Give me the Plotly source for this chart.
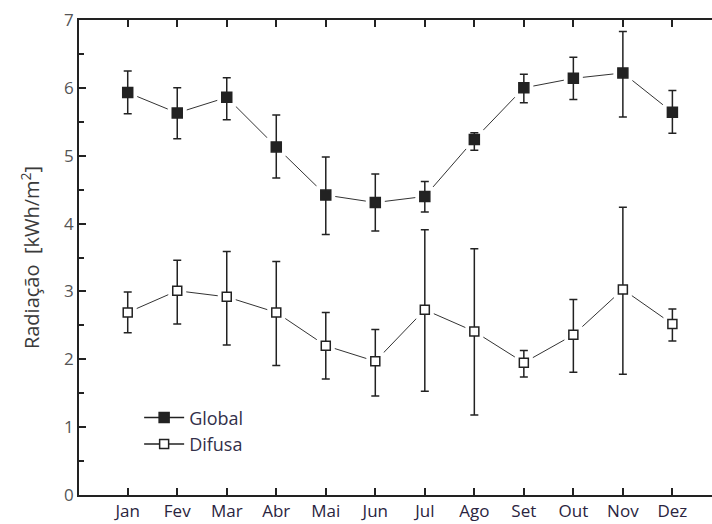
import plotly.graph_objects as go

months = ["Jan", "Fev", "Mar", "Abr", "Mai", "Jun", "Jul", "Ago", "Set", "Out", "Nov", "Dez"]
month_pos = list(range(1, 13))

global_mean = [5.93, 5.63, 5.86, 5.13, 4.42, 4.31, 4.40, 5.24, 6.00, 6.14, 6.22, 5.64]
global_upper = [6.25, 6.00, 6.15, 5.60, 4.98, 4.73, 4.62, 5.34, 6.20, 6.45, 6.83, 5.96]
global_lower = [5.62, 5.25, 5.53, 4.67, 3.84, 3.89, 4.17, 5.08, 5.78, 5.83, 5.57, 5.33]

difusa_mean = [2.69, 3.01, 2.92, 2.69, 2.20, 1.97, 2.73, 2.41, 1.95, 2.36, 3.03, 2.52]
difusa_upper = [2.99, 3.46, 3.59, 3.44, 2.69, 2.44, 3.91, 3.63, 2.13, 2.88, 4.24, 2.74]
difusa_lower = [2.39, 2.52, 2.21, 1.91, 1.71, 1.46, 1.53, 1.18, 1.74, 1.81, 1.78, 2.27]

ink = "#222222"
fig = go.Figure()

series = [
    ("Global", global_mean, global_upper, global_lower, ink, 10),
    ("Difusa", difusa_mean, difusa_upper, difusa_lower, "white", 9),
]

# connecting lines
for name, m, up, lo, fill, sz in series:
    fig.add_trace(go.Scatter(x=month_pos, y=m, mode="lines",
                             line=dict(color="#333333", width=1),
                             showlegend=False, hoverinfo="skip"))
# white halos to create gaps around the markers
for name, m, up, lo, fill, sz in series:
    fig.add_trace(go.Scatter(x=month_pos, y=m, mode="markers",
                             marker=dict(symbol="square", size=sz + 9, color="white",
                                         line=dict(width=0)),
                             showlegend=False, hoverinfo="skip"))
# markers with error bars
for name, m, up, lo, fill, sz in series:
    fig.add_trace(go.Scatter(
        x=month_pos, y=m, mode="markers", showlegend=False,
        marker=dict(symbol="square", size=sz, color=fill, line=dict(color=ink, width=1.5)),
        error_y=dict(type="data", symmetric=False,
                     array=[u - v for u, v in zip(up, m)],
                     arrayminus=[v - l for l, v in zip(lo, m)],
                     color=ink, thickness=1.5, width=4),
    ))
# legend entries
for name, m, up, lo, fill, sz in series:
    fig.add_trace(go.Scatter(
        x=[None], y=[None], mode="lines+markers", name=name,
        line=dict(color=ink, width=1.5),
        marker=dict(symbol="square", size=sz, color=fill, line=dict(color=ink, width=1.5)),
    ))

fig.update_layout(
    width=712, height=524,
    margin=dict(l=79, r=0, t=20, b=29),
    paper_bgcolor="white", plot_bgcolor="white",
    font=dict(family="Open Sans", color="#333333"),
    legend=dict(x=0.095, y=0.135, xanchor="left", yanchor="middle",
                bgcolor="rgba(0,0,0,0)", font=dict(size=18, color="#33304a"),
                tracegroupgap=0, itemwidth=40),
    xaxis=dict(
        range=[0.016, 12.8], tickmode="array", tickvals=month_pos, ticktext=months,
        showgrid=False, zeroline=False, showline=True, linecolor=ink, linewidth=1.5,
        mirror="ticks", ticks="inside", ticklen=7, tickwidth=1.5, tickcolor=ink,
        tickfont=dict(size=17, color="#2a2440"),
    ),
    yaxis=dict(
        range=[0, 7], dtick=1, showgrid=False, zeroline=False, showline=True,
        linecolor=ink, linewidth=1.5, ticks="inside", ticklen=7, tickwidth=1.5,
        tickcolor=ink, tickfont=dict(size=17, color="#555555"),
        minor=dict(dtick=0.5, ticks="inside", ticklen=5, tickwidth=1.5, tickcolor=ink),
        title=dict(text="Radiação  [kWh/m<sup>2</sup>]", font=dict(size=20, color="#3a3a3a"),
                   standoff=19),
    ),
)

fig.write_html("out.html")
